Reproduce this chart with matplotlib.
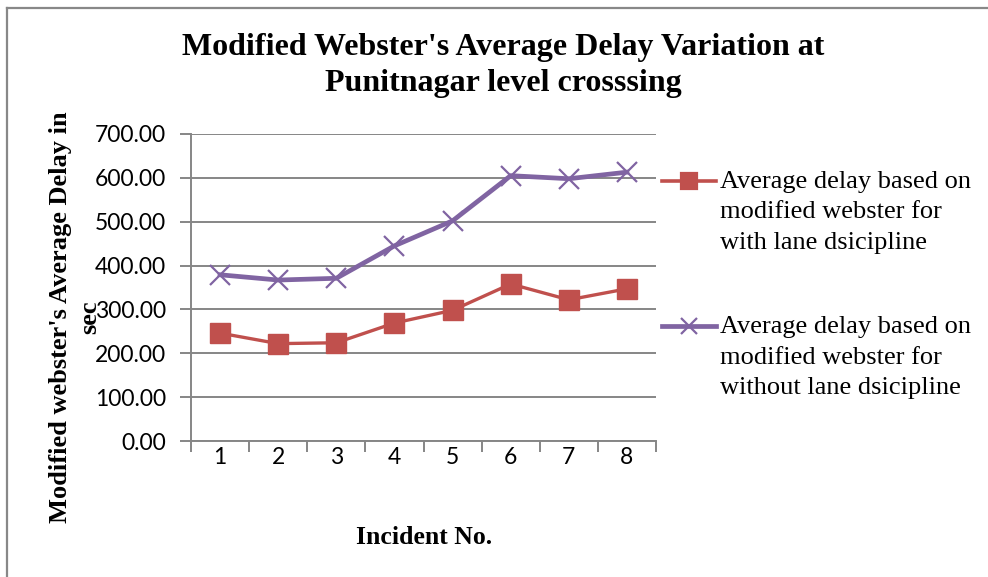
import matplotlib
matplotlib.use("Agg")
import matplotlib.pyplot as plt
from matplotlib.lines import Line2D

incidents = [1, 2, 3, 4, 5, 6, 7, 8]
with_lane = [246, 222, 224, 269, 298, 358, 322, 347]
without_lane = [379, 367, 371, 445, 502, 605, 598, 613]
y_ticks = [0, 100, 200, 300, 400, 500, 600, 700]
label_with = ["Average delay based on", "modified webster for", "with lane dsicipline"]
label_without = ["Average delay based on", "modified webster for", "without lane dsicipline"]

RED = "#C0504D"
PURPLE = "#8064A2"
GRID = "#868686"
W, H = 988, 577

fig = plt.figure(figsize=(W / 100, H / 100), dpi=100)
ax = fig.add_axes([191 / W, 1 - 441 / H, (656 - 191) / W, (441 - 134) / H])

ax.plot(incidents, without_lane, color=PURPLE, lw=3.4, marker="x", ms=14,
        mew=1.6, mec=PURPLE, zorder=3)
ax.plot(incidents, with_lane, color=RED, lw=2.4, marker="s", ms=14,
        mec=RED, mfc=RED, zorder=4)

ax.set_xlim(0.5, 8.5)
ax.set_ylim(0, 700)
ax.set_yticks(y_ticks)
ax.set_yticklabels([f"{v:.2f}" for v in y_ticks], fontfamily="Lato", fontsize=16.5)
ax.grid(axis="y", color=GRID, lw=1.4)
ax.set_axisbelow(True)
ax.set_xticks([i + 0.5 for i in range(0, 9)])
ax.set_xticks(incidents, minor=True)
ax.set_xticklabels([])
ax.set_xticklabels([str(i) for i in incidents], minor=True, fontfamily="Lato", fontsize=16.5)
ax.tick_params(axis="x", which="major", length=8, width=1.4, color=GRID, direction="out")
ax.tick_params(axis="x", which="minor", length=0, pad=4)
ax.tick_params(axis="y", length=8, width=1.4, color=GRID, direction="out", pad=10)
for s in ["top", "right"]:
    ax.spines[s].set_visible(False)
for s in ["left", "bottom"]:
    ax.spines[s].set_color(GRID)
    ax.spines[s].set_linewidth(1.4)

serif = "Liberation Serif"
for yy, line in [(47, "Modified Webster's Average Delay Variation at"),
                 (84, "Punitnagar level crosssing")]:
    fig.text(503 / W, 1 - yy / H, line, ha="center", va="center", fontfamily=serif,
             fontweight="bold", fontsize=23)
fig.text(424 / W, 1 - 537 / H, "Incident No.", ha="center", va="center",
         fontfamily=serif, fontweight="bold", fontsize=18.5)
fig.text(60 / W, 1 - 317 / H, "Modified webster's Average Delay in", ha="center",
         va="center", rotation=90, fontfamily=serif, fontweight="bold", fontsize=19)
fig.text(90 / W, 1 - 317 / H, "sec", ha="center",
         va="center", rotation=90, fontfamily=serif, fontweight="bold", fontsize=19)

# legend
for (y0, col, mk, lw, ms, lab) in [(181, RED, "s", 2.6, 11, label_with),
                                   (326, PURPLE, "x", 3.4, 12, label_without)]:
    yy = 1 - y0 / H
    fig.add_artist(Line2D([662 / W, 716 / W], [yy, yy], color=col, lw=lw,
                          transform=fig.transFigure))
    fig.add_artist(Line2D([689 / W], [yy], color=col, marker=mk, ms=ms, mew=1.6,
                          mec=col, mfc=col, transform=fig.transFigure))
    for k, line in enumerate(lab):
        fig.text(720 / W, 1 - (y0 + 1 + 30.5 * k) / H, line, ha="left", va="center",
                 fontfamily=serif, fontsize=19)

# outer frame
fig.add_artist(Line2D([7 / W, 1], [1 - 8 / H, 1 - 8 / H], color="#888888", lw=1.6,
                      transform=fig.transFigure))
fig.add_artist(Line2D([7 / W, 7 / W], [0, 1 - 8 / H], color="#888888", lw=1.6,
                      transform=fig.transFigure))

fig.savefig("out.png", dpi=100)
